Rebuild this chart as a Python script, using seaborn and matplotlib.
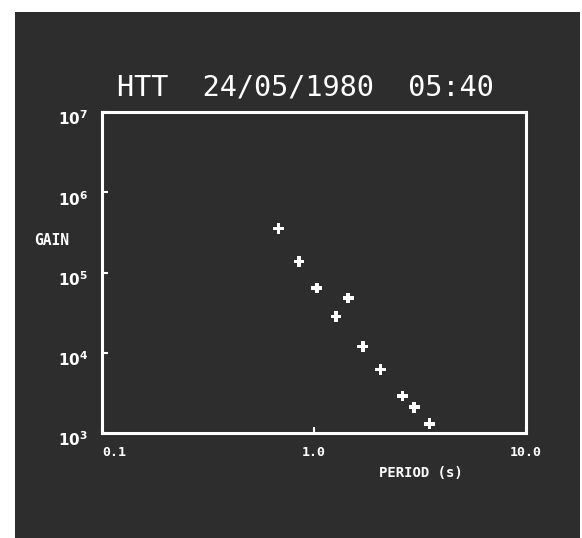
import numpy as np
import pandas as pd
import matplotlib
matplotlib.use("Agg")
import matplotlib.pyplot as plt
import matplotlib.transforms as mtransforms
import seaborn as sns
from matplotlib.patches import Rectangle
from matplotlib.ticker import FixedLocator, FixedFormatter, NullLocator

# ---- data ----
period_s = [0.68, 0.85, 1.03, 1.45, 1.27, 1.70, 2.06, 2.61, 2.97, 3.50]
gain = [3.55e5, 1.37e5, 6.4e4, 4.8e4, 2.84e4, 1.2e4, 6.2e3, 2.9e3, 2.1e3, 1.3e3]
x_ticks = [0.1, 1.0, 10.0]
x_tick_labels = ["0.1", "1.0", "10.0"]
y_ticks = [1e3, 1e4, 1e5, 1e6, 1e7]
y_tick_labels = [r"$\mathbf{10}^{\mathbf{3}}$", r"$\mathbf{10}^{\mathbf{4}}$",
                 r"$\mathbf{10}^{\mathbf{5}}$", r"$\mathbf{10}^{\mathbf{6}}$",
                 r"$\mathbf{10}^{\mathbf{7}}$"]
title_text = "HTT  24/05/1980  05:40"
x_label = "PERIOD (s)"
y_label = "GAIN"

df = pd.DataFrame({"period": period_s, "gain": gain})

sns.set_theme(style="dark")
plt.rcParams["font.family"] = ["DejaVu Sans Mono", "DejaVu Sans"]
plt.rcParams["mathtext.fontset"] = "dejavusans"

SCREEN = "#2d2d2d"
FG = "white"

fig = plt.figure(figsize=(5.82, 5.38), dpi=100)
fig.patch.set_facecolor("white")
fig.add_artist(Rectangle((15 / 582, 0), (580 - 15) / 582, (538 - 12) / 538,
                         transform=fig.transFigure, facecolor=SCREEN,
                         edgecolor="none", zorder=-10))

ax = fig.add_axes([102 / 582, 1 - 433 / 538, 424 / 582, 321 / 538])
ax.set_facecolor(SCREEN)

sns.scatterplot(data=df, x="period", y="gain", ax=ax, marker="P", s=60,
                color=FG, edgecolor="none", linewidth=0, legend=False)

ax.set_xscale("log")
ax.set_yscale("log")
ax.set_xlim(0.1, 10.0)
ax.set_ylim(1e3, 1e7)

ax.xaxis.set_major_locator(FixedLocator(x_ticks))
ax.xaxis.set_major_formatter(FixedFormatter(x_tick_labels))
ax.xaxis.set_minor_locator(NullLocator())
ax.yaxis.set_major_locator(FixedLocator(y_ticks))
ax.yaxis.set_major_formatter(FixedFormatter(y_tick_labels))
ax.yaxis.set_minor_locator(NullLocator())

ax.tick_params(axis="both", which="major", direction="in", length=4, width=1.5,
               color=FG, labelcolor=FG, bottom=True, left=True, top=False, right=False)
ax.tick_params(axis="x", pad=9, labelsize=9.5)
ax.tick_params(axis="y", pad=10, labelsize=11)
for lbl in ax.get_xticklabels():
    lbl.set_fontweight("bold")
ax.get_xticklabels()[0].set_horizontalalignment("left")

# nudge y tick labels slightly down, as on the screen
offset = mtransforms.ScaledTranslation(0, -4 / 72, fig.dpi_scale_trans)
for lbl in ax.get_yticklabels():
    lbl.set_transform(lbl.get_transform() + offset)

for sp in ax.spines.values():
    sp.set_visible(True)
    sp.set_color(FG)
    sp.set_linewidth(2.2)
ax.grid(False)

ax.set_xlabel(x_label, color=FG, fontsize=10, fontweight="bold")
ax.xaxis.set_label_coords(0.752, -0.103)
ax.set_ylabel(y_label, color=FG, fontsize=10.5, fontweight="bold", rotation=0,
              va="center", ha="center")
ax.yaxis.set_label_coords(-0.118, 0.601)

fig.text(305 / 582, 1 - 87 / 538, title_text, color=FG, fontsize=20.5,
         ha="center", va="center", family=["DejaVu Sans Mono", "DejaVu Sans"])

fig.savefig("out.png", dpi=100, facecolor=fig.get_facecolor())
